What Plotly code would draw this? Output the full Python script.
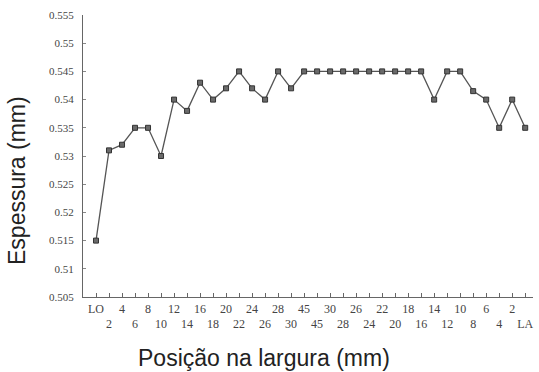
import plotly.graph_objects as go

positions = ["LO", "2", "4", "6", "8", "10", "12", "14", "16", "18", "20", "22", "24", "26", "28", "30", "45",
             "45", "30", "28", "26", "24", "22", "20", "18", "16", "14", "12", "10", "8", "6", "4", "2", "LA"]
thickness = [0.515, 0.531, 0.532, 0.535, 0.535, 0.530, 0.540, 0.538, 0.543, 0.540, 0.542, 0.545, 0.542, 0.540,
             0.545, 0.542, 0.545, 0.545, 0.545, 0.545, 0.545, 0.545, 0.545, 0.545, 0.545, 0.545, 0.540, 0.545,
             0.545, 0.5415, 0.540, 0.535, 0.540, 0.535]
y_ticks = [0.505, 0.51, 0.515, 0.52, 0.525, 0.53, 0.535, 0.54, 0.545, 0.55, 0.555]
y_tick_text = ["0.505", "0.51", "0.515", "0.52", "0.525", "0.53", "0.535", "0.54", "0.545", "0.55", "0.555"]

idx = list(range(len(positions)))
tick_text = [p if i % 2 == 0 else "<br>" + p for i, p in enumerate(positions)]

fig = go.Figure()
fig.add_trace(go.Scatter(
    x=idx, y=thickness, mode="lines+markers",
    line=dict(color="#555555", width=1.3),
    marker=dict(symbol="square", size=5, color="#6a6a6a", line=dict(color="#333333", width=1)),
    showlegend=False,
))

serif = "Liberation Serif"
L, R, T, B = 83, 6, 15, 75
W, H = 539, 372
pw, ph = W - L - R, H - T - B

fig.update_layout(
    width=W, height=H,
    margin=dict(l=L, r=R, t=T, b=B),
    paper_bgcolor="white", plot_bgcolor="white",
    xaxis=dict(
        range=[-1, 33.6], tickmode="array", tickvals=idx, ticktext=tick_text, tickangle=0,
        showgrid=False, zeroline=False, showline=True, linecolor="#666666", linewidth=1.2,
        ticks="inside", ticklen=4, tickcolor="#666666",
        tickfont=dict(family=serif, size=12, color="#444444"),
    ),
    yaxis=dict(
        range=[0.505, 0.555], tickmode="array", tickvals=y_ticks, ticktext=y_tick_text,
        showgrid=False, zeroline=False, showline=True, linecolor="#666666", linewidth=1.2,
        ticks="inside", ticklen=3, tickcolor="#888888", ticklabelstandoff=6,
        tickfont=dict(family=serif, size=11, color="#444444"),
    ),
)

title_font = dict(family="Liberation Sans, Arial, sans-serif", size=23, color="#222222")
fig.add_annotation(text="Espessura (mm)", xref="paper", yref="paper",
                   x=(17 - L) / pw, y=(H - B - 181) / ph, showarrow=False, textangle=-90,
                   font=title_font, xanchor="center", yanchor="middle")
fig.add_annotation(text="Posição na largura (mm)", xref="paper", yref="paper",
                   x=(264 - L) / pw, y=(H - B - 358) / ph, showarrow=False,
                   font=title_font, xanchor="center", yanchor="middle")

fig.write_html("out.html")
